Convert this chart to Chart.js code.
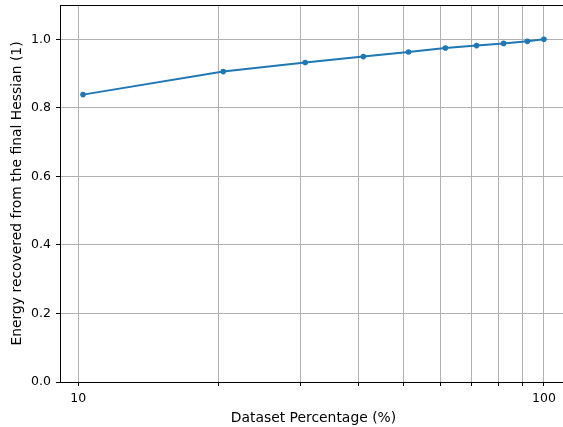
<!DOCTYPE html>
<html>
<head>
<meta charset="utf-8">
<script src="https://cdn.jsdelivr.net/npm/chart.js@4"></script>
<style>
    html, body { margin: 0; padding: 0; overflow: hidden; background: #fff; }
    #wrap { width: 600px; height: 427px; }
</style>
</head>
<body>
<div id="wrap"><canvas id="lineChart"></canvas></div>
<script>
    // Energy recovered vs dataset percentage (log x)
    const datasetPct = [10.24, 20.48, 30.72, 40.96, 51.2, 61.44, 71.68, 81.92, 92.16, 100];
    const energy = [0.8385, 0.9057, 0.932, 0.9494, 0.963, 0.9747, 0.9815, 0.988, 0.994, 1.0];
    const xTicks = [10, 20, 30, 40, 50, 60, 70, 80, 90, 100];
    const xLabelled = [10, 100];
    const yTicks = [0, 0.2, 0.4, 0.6, 0.8, 1.0];

    const tickFont = { family: 'DejaVu Sans', size: 12.5 };
    const titleFont = { family: 'DejaVu Sans', size: 13.9 };
    Chart.defaults.color = '#000';
    Chart.defaults.font.family = 'DejaVu Sans';

    // top + right spines like matplotlib
    const frame = {
        id: 'frame',
        afterDraw(chart) {
            const a = chart.chartArea;
            const c = chart.ctx;
            c.save();
            c.strokeStyle = '#000';
            c.lineWidth = 1;
            c.beginPath();
            c.moveTo(a.left, a.top + 0.5);
            c.lineTo(a.right, a.top + 0.5);
            c.lineTo(a.right - 0.5, a.bottom);
            c.stroke();
            c.restore();
        }
    };

    const ctx = document.getElementById("lineChart");
    new Chart(ctx, {
        type: "line",
        data: {
            datasets: [{
                label: "Energy",
                data: datasetPct.map((x, i) => ({ x: x, y: energy[i] })),
                borderColor: '#1f77b4',
                backgroundColor: '#1f77b4',
                borderWidth: 2,
                pointRadius: 2.8,
                pointBorderWidth: 0,
                pointBackgroundColor: '#1f77b4',
                tension: 0,
                fill: false
            }]
        },
        plugins: [frame],
        options: {
            responsive: true,
            maintainAspectRatio: false,
            animation: false,
            devicePixelRatio: 1,
            layout: {
                padding: { top: 5, right: 33, left: 0, bottom: 0 }
            },
            plugins: {
                legend: { display: false },
                tooltip: { enabled: false }
            },
            scales: {
                x: {
                    type: 'logarithmic',
                    min: 9.139,
                    max: 112.1,
                    afterBuildTicks: (scale) => {
                        scale.ticks = xTicks.map(v => ({ value: v }));
                    },
                    afterFit: (scale) => {
                        scale.height = 45;
                        scale.paddingLeft = 0;
                        scale.paddingRight = 0;
                    },
                    grid: {
                        color: '#b0b0b0',
                        lineWidth: 1,
                        tickColor: '#000',
                        tickLength: 4
                    },
                    border: { color: '#000', width: 1 },
                    ticks: {
                        autoSkip: false,
                        maxRotation: 0,
                        padding: 5,
                        font: tickFont,
                        callback: (v) => xLabelled.includes(v) ? String(v) : ''
                    },
                    title: {
                        display: true,
                        text: 'Dataset Percentage (%)',
                        font: titleFont,
                        padding: { top: 0, bottom: 0.5 }
                    }
                },
                y: {
                    type: 'linear',
                    min: 0,
                    max: 1.1,
                    afterBuildTicks: (scale) => {
                        scale.ticks = yTicks.map(v => ({ value: v }));
                    },
                    afterFit: (scale) => {
                        scale.width = 60;
                        scale.paddingTop = 0;
                        scale.paddingBottom = 0;
                    },
                    grid: {
                        color: '#b0b0b0',
                        lineWidth: 1,
                        tickColor: '#000',
                        tickLength: 4
                    },
                    border: { color: '#000', width: 1 },
                    ticks: {
                        padding: 5,
                        font: tickFont,
                        callback: (v) => Number(v).toFixed(1)
                    },
                    title: {
                        display: true,
                        text: 'Energy recovered from the final Hessian (1)',
                        font: titleFont,
                        padding: { top: 8.9, bottom: 0 }
                    }
                }
            }
        }
    });
</script>
</body>
</html>
